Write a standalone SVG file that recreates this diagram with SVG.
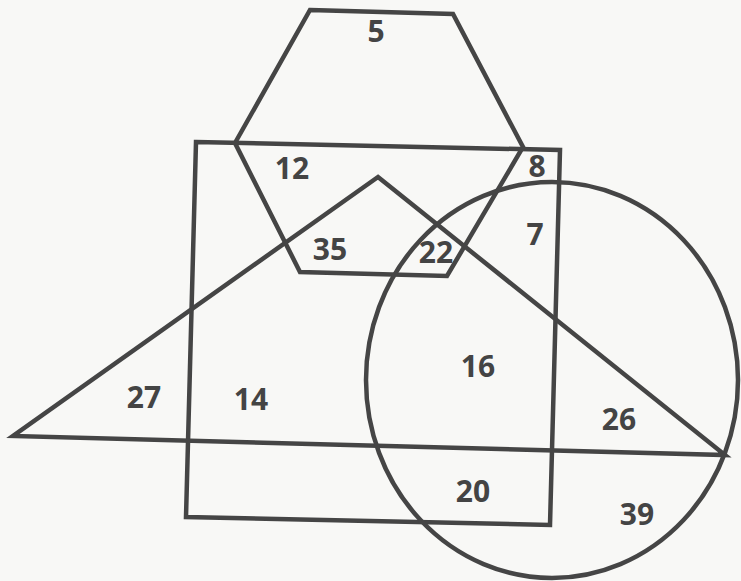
<svg xmlns="http://www.w3.org/2000/svg" width="741" height="581" viewBox="0 0 741 581">
<style>
.s{fill:none;stroke:#454545;stroke-width:4.5;stroke-linejoin:miter}
.t{font-family:"Open Sans","Liberation Sans",sans-serif;font-weight:bold;font-size:30px;fill:#444;text-anchor:middle}
</style>
<rect width="741" height="581" fill="#f8f8f6"/>
<g id="hexagon"><polygon class="s" points="310,10 453,14 523,147 447,276 300,272 235,143"/></g>
<g id="rectangle"><polygon class="s" points="196,142 560,150 550,525 186,517"/></g>
<g id="triangle"><polygon class="s" points="378,177 725,455 13,436"/></g>
<g id="circle"><ellipse class="s" cx="552" cy="380" rx="186" ry="198"/></g>
<g id="labels">
<text class="t" x="376" y="42">5</text>
<text class="t" x="292" y="179">12</text>
<text class="t" x="537" y="177">8</text>
<text class="t" x="535" y="245">7</text>
<text class="t" x="330" y="260">35</text>
<text class="t" x="436" y="263">22</text>
<text class="t" x="478" y="377">16</text>
<text class="t" x="144" y="408">27</text>
<text class="t" x="251" y="410">14</text>
<text class="t" x="619" y="430">26</text>
<text class="t" x="473" y="502">20</text>
<text class="t" x="637" y="525">39</text>
</g>
</svg>
